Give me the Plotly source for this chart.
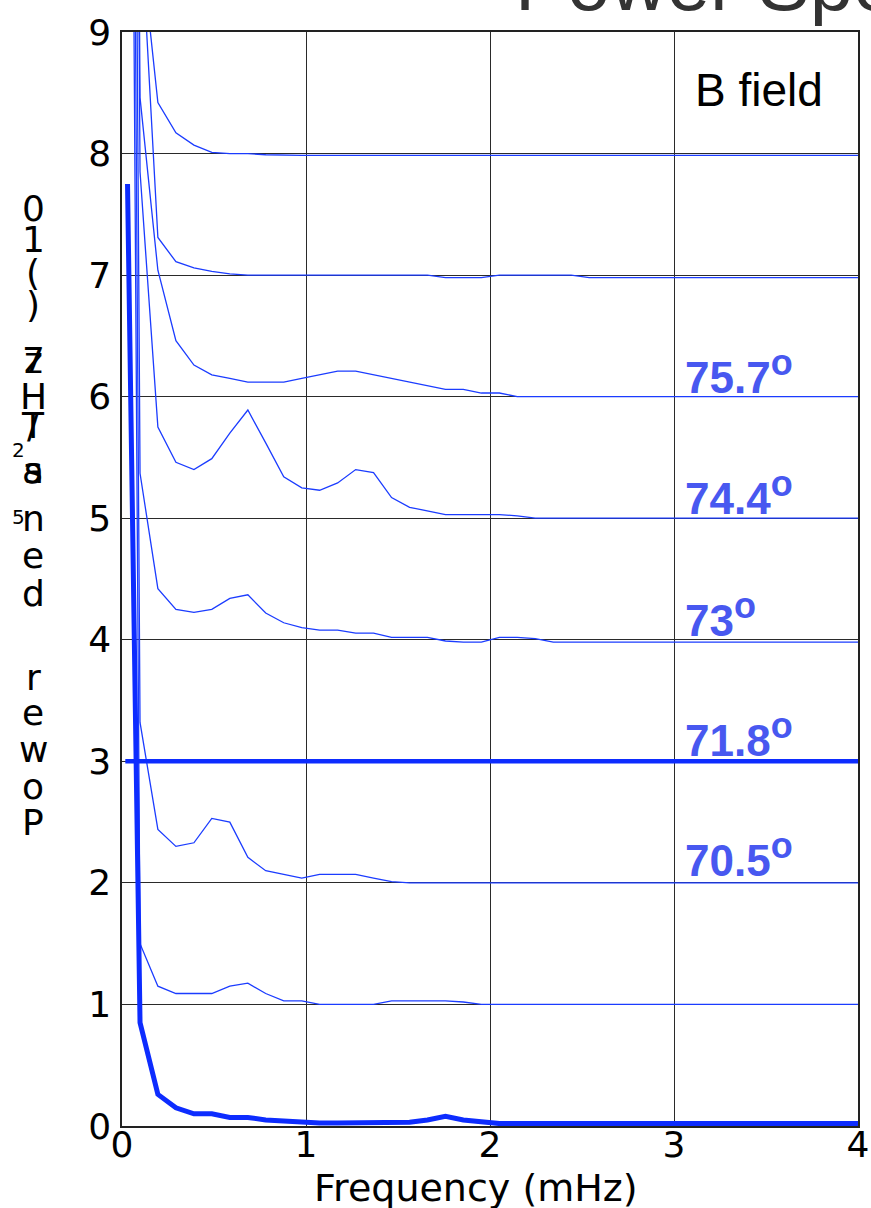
import plotly.graph_objects as go

# Frequency bins (mHz)
freqs = [0.0, 0.098, 0.195, 0.293, 0.391, 0.488, 0.586, 0.684, 0.781, 0.879,
         0.977, 1.074, 1.172, 1.270, 1.367, 1.465, 1.563, 1.660, 1.758, 1.855,
         1.953, 2.051, 2.148, 2.246, 2.344, 2.441, 2.539, 2.637, 2.734, 2.832,
         2.930, 3.027, 3.125, 3.223, 3.320, 3.418, 3.516, 3.613, 3.711, 3.809,
         3.906, 4.004]

# Stacked spectra (each trace shifted up by one unit per station)
spec_b0 = [7.75, 0.85, 0.26, 0.15, 0.10, 0.10, 0.07, 0.07, 0.05, 0.04,
           0.03, 0.025, 0.025, 0.025, 0.025, 0.025, 0.03, 0.05, 0.08, 0.05,
           0.03] + [0.02] * 21
freqs_b0 = [0.03] + freqs[1:]

spec_b1 = [24, 1.50, 1.15, 1.09, 1.09, 1.09, 1.15, 1.175, 1.09, 1.03,
           1.03, 1.0, 1.0, 1.0, 1.0, 1.03, 1.03, 1.03, 1.03, 1.02] + [1.0] * 22

spec_b2 = [26, 3.32, 2.44, 2.30, 2.33, 2.53, 2.50, 2.21, 2.10, 2.07,
           2.04, 2.07, 2.07, 2.07, 2.04, 2.01] + [2.0] * 26

spec_b3 = [3.0, 3.0]
freqs_b3 = [0.018, 4.0]

spec_b4 = [28, 5.37, 4.42, 4.25, 4.225, 4.25, 4.34, 4.37, 4.22, 4.14,
           4.10, 4.08, 4.08, 4.055, 4.055, 4.02, 4.02, 4.02, 3.99, 3.98,
           3.98, 4.02, 4.02, 4.01] + [3.98] * 18

spec_b5 = [30, 7.85, 5.75, 5.46, 5.40, 5.49, 5.70, 5.89, 5.62, 5.34,
           5.25, 5.23, 5.29, 5.40, 5.375, 5.17, 5.09, 5.06, 5.03, 5.03,
           5.03, 5.03, 5.02] + [5.0] * 19

spec_b6 = [30, 8.46, 7.04, 6.46, 6.26, 6.18, 6.15, 6.12, 6.12, 6.12,
           6.15, 6.18, 6.21, 6.21, 6.18, 6.15, 6.12, 6.09, 6.06, 6.06,
           6.03, 6.03] + [6.0] * 20

spec_b7 = ([32, 10.0, 7.31, 7.11, 7.06, 7.03, 7.01] + [7.0] * 11
           + [6.98] * 3 + [7.0] * 5 + [6.98] * 16)

spec_b8 = [34, 9.8, 8.42, 8.17, 8.07, 8.01, 8.0, 8.0, 7.99] + [7.985] * 33

# Latitude labels and their vertical positions
lat_labels = ["70.5", "71.8", "73", "74.4", "75.7"]
lat_label_y = [2.23, 3.22, 4.2, 5.21, 6.2]

x_ticks = [0, 1, 2, 3, 4]
y_ticks = [0, 1, 2, 3, 4, 5, 6, 7, 8, 9]

# Vertically stacked characters of the y-axis caption (char, y px, x px, size)
ylab_chars = [("0", 208, 33, 36), ("1", 240, 33, 36), ("(", 272, 33, 36),
              (")", 305, 33, 36), ("z", 360, 33, 36), ("7", 360, 33, 36),
              ("H", 396, 33, 36), ("T", 426, 33, 36), ("/", 426, 33, 36),
              ("2", 450, 19, 20), ("s", 470, 33, 36), ("a", 470, 33, 36),
              ("5", 517, 19, 20), ("n", 518, 33, 36), ("e", 555, 33, 36),
              ("d", 593, 33, 36), ("r", 677, 33, 36), ("e", 713, 33, 36),
              ("w", 749, 33, 36), ("o", 786, 33, 36), ("P", 822, 33, 36)]

THIN = "#1b3cff"
THICK = "#0d2cff"
LABEL = "#4858f0"

W, H = 871, 1208
ML, MR, MT, MB = 122, 13, 32, 82
PW, PH = W - ML - MR, H - MT - MB

fig = go.Figure()

for spec in [spec_b1, spec_b2, spec_b4, spec_b5, spec_b6, spec_b7, spec_b8]:
    fig.add_trace(go.Scatter(x=freqs, y=spec, mode="lines",
                             line=dict(color=THIN, width=1.3),
                             showlegend=False, hoverinfo="skip"))

fig.add_trace(go.Scatter(x=freqs_b3, y=spec_b3, mode="lines",
                         line=dict(color=THICK, width=4.5),
                         showlegend=False, hoverinfo="skip"))
fig.add_trace(go.Scatter(x=freqs_b0, y=spec_b0, mode="lines",
                         line=dict(color=THICK, width=5),
                         showlegend=False, hoverinfo="skip"))

annotations = []
for txt, yv in zip(lat_labels, lat_label_y):
    annotations.append(dict(
        x=3.05, y=yv, xref="x", yref="y",
        text=f"<b>{txt}<sup><span style='font-size:36px'>o</span></sup></b>",
        showarrow=False, xanchor="left", yanchor="middle",
        font=dict(family="Liberation Sans", size=44, color=LABEL)))

annotations.append(dict(x=3.46, y=8.52, xref="x", yref="y", text="B field",
                        showarrow=False, xanchor="center", yanchor="middle",
                        font=dict(family="Liberation Sans", size=46, color="black")))

# Title, partly outside the page
annotations.append(dict(x=(513 - ML) / PW, y=1 + (MT - 29) / PH,
                        xref="paper", yref="paper", text="Power Spectra",
                        showarrow=False, xanchor="left", yanchor="bottom",
                        font=dict(family="Liberation Sans", size=78, color="#333333")))

annotations.append(dict(x=(476 - ML) / PW, y=(MT + PH - 1188) / PH,
                        xref="paper", yref="paper", text="Frequency (mHz)",
                        showarrow=False, xanchor="center", yanchor="middle",
                        font=dict(family="DejaVu Sans", size=38, color="black")))

for ch, ypx, xpx, sz in ylab_chars:
    annotations.append(dict(x=(xpx - ML) / PW, y=(MT + PH - ypx) / PH,
                            xref="paper", yref="paper", text=ch,
                            showarrow=False, xanchor="center", yanchor="middle",
                            font=dict(family="DejaVu Sans", size=sz, color="black")))

axis_common = dict(showgrid=True, gridcolor="#2a2a2a", gridwidth=1,
                   showline=True, linecolor="#222222", linewidth=1.5, mirror=True,
                   zeroline=False, ticks="", automargin=False,
                   tickfont=dict(family="DejaVu Sans", size=36, color="black"))

fig.update_layout(
    width=W, height=H,
    margin=dict(l=ML, r=MR, t=MT, b=MB, autoexpand=False),
    paper_bgcolor="white", plot_bgcolor="white",
    xaxis=dict(range=[0, 4], tickvals=x_ticks, ticktext=[str(v) for v in x_ticks],
               ticklabelstandoff=-14, ticklabeloverflow="allow", **axis_common),
    yaxis=dict(range=[0, 9], tickvals=y_ticks, ticktext=[str(v) for v in y_ticks],
               ticklabelstandoff=2, **axis_common),
    annotations=annotations,
)

fig.write_html("out.html")
